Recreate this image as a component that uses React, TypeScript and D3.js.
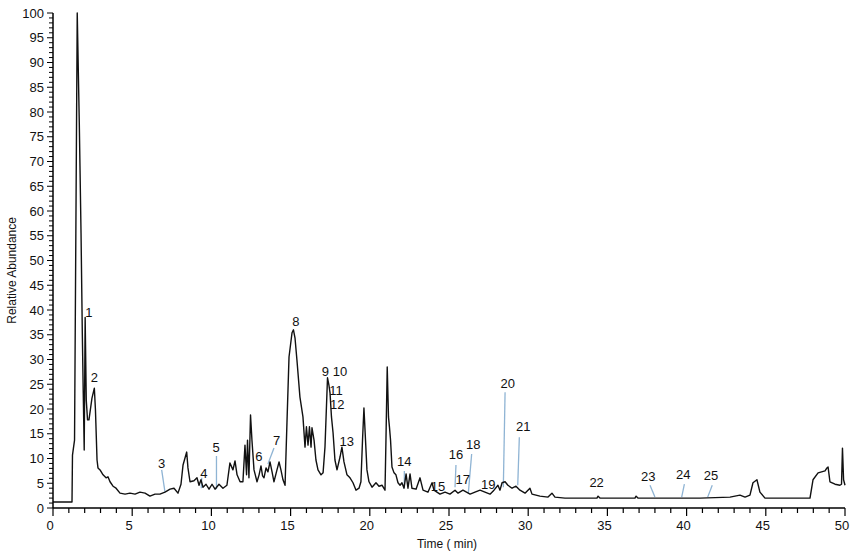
import React from 'react';
import * as d3 from 'd3';

const width = 851;
const height = 552;
const margin = { top: 13, left: 53, bottom: 44, right: 6 };

// retention time (min) and relative abundance (%)
const time = [
  0, 1.2, 1.23, 1.29, 1.36, 1.53, 1.66, 1.77, 1.85, 1.91, 1.97, 2.03, 2.1, 2.18, 2.27,
  2.46, 2.61, 2.68, 2.78, 2.84, 2.97, 3.16, 3.35, 3.47, 3.6, 3.79, 3.98, 4.23, 4.55, 4.86,
  5.18, 5.49, 5.81, 6.12, 6.44, 6.75, 7.07, 7.39, 7.64, 7.89, 8.08, 8.21, 8.44, 8.52, 8.65,
  8.9, 9.09, 9.22, 9.34, 9.47, 9.66, 9.85, 10.04, 10.23, 10.48, 10.73, 10.98, 11.17, 11.36,
  11.49, 11.62, 11.81, 11.99, 12.12, 12.22, 12.28, 12.37, 12.47, 12.56, 12.69, 12.88, 13.01,
  13.13, 13.23, 13.32, 13.45, 13.57, 13.7, 13.83, 13.95, 14.14, 14.27, 14.39, 14.52, 14.65,
  14.77, 14.9, 15.09, 15.18, 15.28, 15.4, 15.59, 15.78, 15.91, 16.0, 16.1, 16.19, 16.29,
  16.35, 16.48, 16.6, 16.73, 16.92, 17.05, 17.17, 17.33, 17.42, 17.49, 17.58, 17.68, 17.8,
  17.93, 18.12, 18.24, 18.37, 18.56, 18.75, 18.94, 19.13, 19.32, 19.44, 19.54, 19.63, 19.73,
  19.82, 19.95, 20.14, 20.39, 20.58, 20.77, 20.96, 21.02, 21.1, 21.18, 21.24, 21.31, 21.4,
  21.53, 21.65, 21.78, 21.91, 22.03, 22.16, 22.29, 22.41, 22.54, 22.66, 22.92, 23.17, 23.36,
  23.67, 23.93, 24.05, 24.43, 24.75, 25.06, 25.38, 25.57, 25.88, 26.33, 26.64, 26.96, 27.27,
  27.59, 27.84, 28.09, 28.22, 28.35, 28.54, 28.72, 28.98, 29.23, 29.48, 29.8, 30.11, 30.24,
  30.74, 31.25, 31.5, 31.69, 32.32, 34.34, 34.41, 34.53, 36.74, 36.81, 36.93, 40.85, 42.74,
  43.37, 43.69, 44.0, 44.19, 44.44, 44.63, 44.95, 47.79, 47.98, 48.3, 48.74, 48.86, 48.93,
  49.05, 49.37, 49.68, 49.78, 49.84, 49.91, 50,
];

const abundance = [
  1.2, 1.2, 10.7, 12.1, 13.7, 100, 77.8, 55.5, 35.4, 23.2, 11.7, 38.5, 21.8, 17.8, 17.8,
  22.2, 24.2, 19.8, 9.7, 8.1, 7.7, 6.7, 6.1, 6.3, 5.3, 4.4, 4.0, 3.0, 2.8, 3.0,
  2.8, 3.2, 3.0, 2.4, 2.8, 2.8, 3.2, 3.8, 4.0, 3.0, 4.8, 8.7, 11.3, 8.1, 5.3,
  5.5, 6.1, 4.6, 5.7, 4.2, 4.8, 3.8, 4.8, 3.8, 4.8, 4.0, 4.6, 9.1, 7.7,
  9.5, 6.7, 5.3, 5.3, 12.7, 6.7, 13.7, 6.1, 18.8, 13.7, 7.7, 5.3, 6.7,
  8.5, 6.5, 6.1, 8.1, 7.3, 9.3, 7.3, 5.3, 7.7, 9.3, 7.7, 5.7, 4.6,
  17.2, 30.5, 35.4, 36.0, 34.3, 29.9, 22.4, 18.4, 12.3, 16.4, 12.7, 16.4, 12.3,
  16.2, 13.7, 9.7, 7.7, 6.7, 7.1, 12.3, 26.3, 24.8, 23.2, 18.4, 15.2, 9.7,
  7.7, 10.3, 12.3, 9.3, 6.7, 6.1, 5.1, 3.6, 4.0, 5.3, 13.7, 20.2, 13.7,
  7.7, 5.3, 4.2, 5.1, 4.4, 4.6, 3.6, 13.7, 28.5, 18.4, 16.4, 13.7, 8.3,
  7.1, 6.7, 5.1, 4.6, 5.1, 4.0, 6.9, 4.0, 6.9, 4.0, 3.8, 6.1, 3.6,
  3.2, 5.1, 3.6, 2.8, 3.2, 2.8, 3.6, 3.0, 3.6, 2.8, 3.2, 3.6, 3.2,
  2.8, 3.6, 4.6, 3.6, 5.1, 5.3, 4.6, 4.0, 4.4, 3.6, 3.0, 4.0, 2.8,
  2.4, 2.2, 3.0, 2.2, 2.0, 2.0, 2.4, 2.0, 2.0, 2.4, 2.0, 2.0, 2.2,
  2.6, 2.2, 2.6, 5.1, 5.7, 3.2, 2.0, 2.0, 5.7, 7.1, 7.5, 8.1, 8.3,
  5.3, 4.8, 4.6, 4.8, 12.1, 5.7, 4.6,
];

// peak numbers: text position in data units
const peakNames = ['1', '2', '3', '4', '5', '6', '7', '8', '9', '10', '11', '12', '13',
  '14', '15', '16', '17', '18', '19', '20', '21', '22', '23', '24', '25'];
const peakLabelTime = [2.27, 2.61, 6.86, 9.53, 10.29, 13.0, 14.12, 15.34, 17.19, 18.12, 17.87,
  17.95, 18.54, 22.18, 24.31, 25.44, 25.87, 26.53, 27.48, 28.71, 29.69, 34.32, 37.58, 39.79, 41.54];
const peakLabelAbund = [39.6, 26.3, 9.1, 7.1, 12.3, 10.5, 13.7, 37.8, 27.7, 27.7, 23.8,
  21.0, 13.4, 9.35, 4.3, 10.9, 5.7, 12.9, 4.8, 25.2, 16.6, 5.2, 6.5, 6.8, 6.7];

// leader lines [t1, a1, t2, a2]
const leaders = [
  [6.86, 7.7, 7.07, 3.2],
  [9.39, 6.1, 9.36, 4.0],
  [10.32, 10.5, 10.32, 3.8],
  [13.95, 12.1, 13.57, 8.9],
  [22.18, 7.5, 22.18, 4.0],
  [25.44, 8.7, 25.38, 4.2],
  [26.43, 10.9, 26.22, 3.0],
  [28.54, 23.4, 28.43, 4.2],
  [29.44, 14.3, 29.34, 4.6],
  [37.69, 4.6, 38.0, 2.2],
  [39.86, 4.8, 39.69, 2.2],
  [41.62, 4.6, 41.33, 2.2],
];

const xTicks = d3.range(0, 51, 5);
const yTicks = d3.range(0, 101, 5);

const font = 'Liberation Sans, Arial, sans-serif';

export default function App() {
  const x = d3.scaleLinear().domain([0, 50]).range([margin.left, width - margin.right]);
  const y = d3.scaleLinear().domain([0, 100]).range([height - margin.bottom, margin.top]);

  const pts = time.map((t, i) => [t, abundance[i]] as [number, number]);
  const line = d3.line<[number, number]>().x((d) => x(d[0])).y((d) => y(d[1]));

  const y0 = y(0);

  return (
    <svg width={width} height={height}
      style={{ position: 'absolute', left: 0, top: 0, background: '#fff' }}>
      {/* leader lines */}
      {leaders.map((l, i) => (
        <line key={'l' + i} x1={x(l[0])} y1={y(l[1])} x2={x(l[2])} y2={y(l[3])}
          stroke="#8fb4d4" strokeWidth={1.3} />
      ))}
      <path d={line(pts) || ''} fill="none" stroke="#111" strokeWidth={1.4} strokeLinejoin="round" />

      {/* y axis */}
      <line x1={x(0)} x2={x(0)} y1={y0} y2={y(100)} stroke="#000" strokeWidth={1.5} />
      {d3.range(0, 101, 1).map((v) => (
        <line key={'ym' + v} x1={x(0) - (v % 5 === 0 ? 6 : 4)} x2={x(0)} y1={y(v)} y2={y(v)}
          stroke="#000" strokeWidth={1} />
      ))}
      {yTicks.map((v) => (
        <text key={'yt' + v} x={x(0) - 9} y={y(v)} dy="0.36em" textAnchor="end"
          fontFamily={font} fontSize={13} fill="#111">{v}</text>
      ))}
      <text transform={`translate(16, ${y(48)}) rotate(-90)`} textAnchor="middle"
        fontFamily={font} fontSize={12} fill="#111">Relative Abundance</text>

      {/* x axis */}
      <line x1={x(0)} x2={x(50)} y1={y0} y2={y0} stroke="#000" strokeWidth={1.5} />
      {d3.range(0, 51, 1).map((v) => (
        <line key={'xm' + v} x1={x(v)} x2={x(v)} y1={y0} y2={y0 + (v % 5 === 0 ? 8 : 5)}
          stroke="#000" strokeWidth={1.2} />
      ))}
      {xTicks.map((v) => (
        <text key={'xt' + v} x={x(v) - 3} y={y0 + 22} textAnchor="middle"
          fontFamily={font} fontSize={13} fill="#111">{v}</text>
      ))}
      <text x={447} y={y0 + 40} textAnchor="middle" fontFamily={font} fontSize={12} fill="#111">
        Time ( min)
      </text>

      {/* peak numbers */}
      {peakNames.map((n, i) => (
        <text key={'p' + n} x={x(peakLabelTime[i])} y={y(peakLabelAbund[i])} dy="0.36em"
          textAnchor="middle" fontFamily={font} fontSize={13} fill="#111">{n}</text>
      ))}
    </svg>
  );
}
